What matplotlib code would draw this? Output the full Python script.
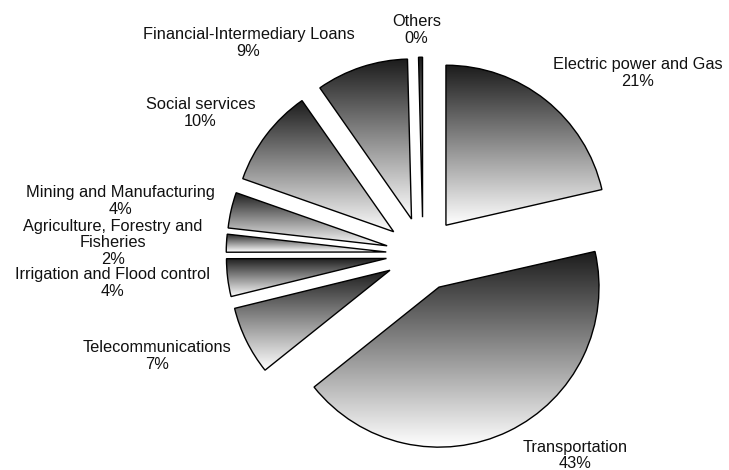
import numpy as np
import matplotlib.pyplot as plt
from matplotlib.colors import LinearSegmentedColormap

# sector shares (%), clockwise from 12 o'clock
sectors = ["Electric power and Gas", "Transportation", "Telecommunications",
           "Irrigation and Flood control", "Agriculture, Forestry and\nFisheries",
           "Mining and Manufacturing", "Social services",
           "Financial-Intermediary Loans", "Others"]
shares = [21.4, 42.8, 6.9, 3.8, 1.8, 3.6, 9.9, 9.3, 0.4]

# label centres, in pie radii from the pie centre
label_xy = [(1.34, 1.13), (0.95, -1.26), (-1.66, -0.64), (-1.94, -0.18),
            (-1.94, 0.07), (-1.89, 0.33), (-1.39, 0.88), (-1.09, 1.32),
            (-0.04, 1.40)]

fig = plt.figure(figsize=(7.29, 4.70), dpi=100)
ax = fig.add_axes([0, 0, 1, 1])

grad_cmap = LinearSegmentedColormap.from_list("shade", ["#1c1c1c", "#ffffff"])
grad = np.linspace(0, 1, 256).reshape(-1, 1)

wedges, _ = ax.pie(shares, startangle=90, counterclock=False,
                   explode=[0.23] * len(shares), radius=1,
                   wedgeprops=dict(facecolor="none", edgecolor="black",
                                   linewidth=1.0, zorder=3))

# vertical dark-to-white gradient inside every wedge
for w in wedges:
    bb = w.get_path().get_extents(w.get_patch_transform())
    im = ax.imshow(grad, cmap=grad_cmap, aspect="auto", origin="upper",
                   extent=[bb.x0, bb.x1, bb.y0, bb.y1], zorder=2,
                   interpolation="bilinear")
    im.set_clip_path(w)

for name, val, (lx, ly) in zip(sectors, shares, label_xy):
    ax.text(lx, ly, f"{name}\n{val:.0f}%", ha="center", va="center",
            fontsize=11.8, family="Liberation Sans", linespacing=1.15,
            color="#111111")

ax.set_xlim(-423 / 160, (729 - 423) / 160)
ax.set_ylim(-(470 - 254) / 160, 254 / 160)
ax.axis("off")

fig.savefig("out.png", dpi=100)
